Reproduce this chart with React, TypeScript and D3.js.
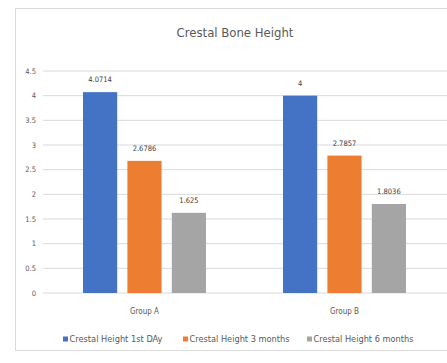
import * as d3 from "d3";
import React from "react";

const groups = ["Group A", "Group B"];
const seriesNames = ["Crestal Height 1st DAy", "Crestal Height 3 months", "Crestal Height 6 months"];
const day1 = [4.0714, 4];
const month3 = [2.6786, 2.7857];
const month6 = [1.625, 1.8036];
const yTicks = [0, 0.5, 1, 1.5, 2, 2.5, 3, 3.5, 4, 4.5];
const colors = ["#4472C4", "#ED7D31", "#A5A5A5"];

const W = 447, H = 363;

export default function App() {
  const series = [day1, month3, month6];
  const plot = { left: 45, right: 444, top: 71, bottom: 293 };

  const y = d3.scaleLinear().domain([0, 4.5]).range([plot.bottom, plot.top]);
  const x0 = d3.scaleBand<string>().domain(groups).range([plot.left, plot.right]).paddingInner(0.385).paddingOuter(0.19);
  const x1 = d3.scaleBand<number>().domain([0, 1, 2]).range([0, x0.bandwidth()]).paddingInner(0.23);

  const textColor = "#595959";
  const font = "'Liberation Sans Narrow', 'DejaVu Sans Condensed', 'Liberation Sans', sans-serif";

  const legendX = [63, 183, 307];

  return (
    <svg width={W} height={H} style={{ position: "absolute", left: 0, top: 0, background: "#fff" }} fontFamily={font}>
      <rect x={15.5} y={8.5} width={440} height={342} fill="#fff" stroke="#d9d9d9" />
      <text x={235} y={37} textAnchor="middle" fontSize={13} fill={textColor}>Crestal Bone Height</text>

      {yTicks.map(t => (
        <g key={t}>
          <line x1={43} x2={447} y1={y(t)} y2={y(t)} stroke="#d9d9d9" strokeWidth={1} />
          <text x={36} y={y(t) + 2.5} textAnchor="end" fontSize={7.5} fill={textColor}>{t}</text>
        </g>
      ))}

      {groups.map((g, gi) => (
        <g key={g} transform={`translate(${x0(g)},0)`}>
          {series.map((s, si) => (
            <g key={si}>
              <rect x={x1(si)} y={y(s[gi])} width={x1.bandwidth()} height={y(0) - y(s[gi])} fill={colors[si]} />
              <text x={x1(si)! + x1.bandwidth() / 2} y={y(s[gi]) - 10} textAnchor="middle" fontSize={7.5} fill="#404040">{s[gi]}</text>
            </g>
          ))}
          <text x={x0.bandwidth() / 2} y={314} textAnchor="middle" fontSize={8} fill={textColor}>{g}</text>
        </g>
      ))}

      {seriesNames.map((n, i) => (
        <g key={n} transform={`translate(${legendX[i]},340)`}>
          <rect x={0} y={-3.5} width={5} height={5} fill={colors[i]} />
          <text x={6.5} y={1.5} fontSize={8} fill={textColor} textLength={i === 0 ? 93 : 100} lengthAdjust="spacingAndGlyphs">{n}</text>
        </g>
      ))}
    </svg>
  );
}
